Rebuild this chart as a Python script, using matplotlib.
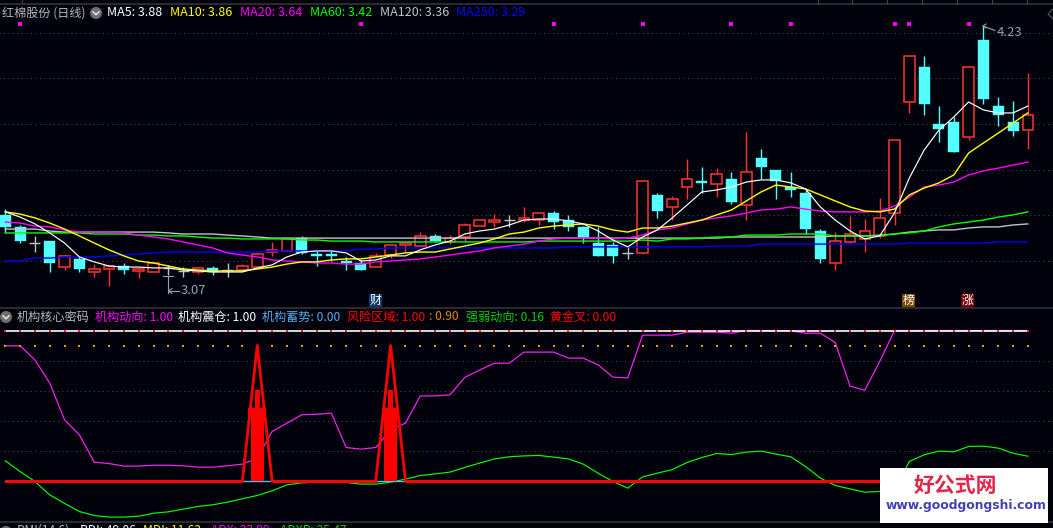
import matplotlib
matplotlib.use('Agg')
import matplotlib.pyplot as plt
from matplotlib.patches import Rectangle, Circle

plt.rcParams['font.family'] = ['Noto Sans CJK SC', 'DejaVu Sans']

# ---------- price data ----------
opens = [3.350,3.294,3.219,3.228,3.107,3.145,3.084,3.098,3.112,3.089,3.084,3.103,3.089,3.084,3.103,3.093,3.093,3.107,3.177,3.182,
         3.242,3.168,3.168,3.135,3.126,3.107,3.163,3.210,3.205,3.252,3.224,3.247,3.298,3.317,3.326,3.326,3.326,3.359,3.326,3.294,
         3.219,3.210,3.173,3.173,3.443,3.387,3.480,3.508,3.494,3.517,3.396,3.615,3.559,3.480,3.452,3.275,3.126,3.224,3.238,3.252,
         3.359,3.876,4.039,3.773,3.783,3.713,4.165,3.857,3.783,3.745]
closes = [3.294,3.228,3.219,3.126,3.159,3.098,3.098,3.112,3.093,3.098,3.126,3.103,3.089,3.103,3.084,3.093,3.112,3.168,3.187,3.238,
          3.173,3.159,3.159,3.126,3.093,3.159,3.210,3.219,3.252,3.228,3.242,3.303,3.326,3.326,3.326,3.336,3.359,3.317,3.294,3.247,
          3.159,3.159,3.173,3.508,3.368,3.424,3.517,3.499,3.541,3.410,3.550,3.573,3.508,3.466,3.284,3.145,3.228,3.261,3.275,3.336,
          3.699,4.090,3.867,3.750,3.643,4.039,3.890,3.815,3.741,3.815]
highs = [3.377,3.303,3.252,3.228,3.163,3.154,3.121,3.117,3.126,3.107,3.126,3.117,3.107,3.107,3.112,3.126,3.121,3.173,3.224,3.238,
         3.252,3.182,3.182,3.154,3.140,3.173,3.210,3.219,3.270,3.261,3.256,3.312,3.326,3.354,3.350,3.387,3.364,3.368,3.350,3.298,
         3.294,3.224,3.201,3.508,3.452,3.438,3.610,3.573,3.568,3.550,3.736,3.657,3.559,3.550,3.466,3.284,3.270,3.345,3.331,3.429,
         3.699,4.090,4.090,3.857,3.806,4.039,4.230,3.899,3.881,4.011]
lows = [3.266,3.219,3.177,3.084,3.093,3.084,3.061,3.019,3.075,3.056,3.084,3.070,3.061,3.075,3.070,3.061,3.089,3.107,3.159,3.182,
        3.168,3.112,3.135,3.093,3.093,3.107,3.149,3.177,3.205,3.224,3.214,3.228,3.298,3.294,3.294,3.317,3.303,3.284,3.275,3.219,
        3.159,3.126,3.145,3.168,3.336,3.326,3.424,3.452,3.433,3.401,3.326,3.517,3.424,3.433,3.261,3.126,3.093,3.219,3.177,3.242,
        3.303,3.825,3.815,3.690,3.643,3.699,3.867,3.764,3.718,3.657]
ma5 = [3.364,3.340,3.308,3.266,3.219,3.154,3.131,3.112,3.107,3.107,3.103,3.103,3.093,3.089,3.084,3.084,3.084,3.103,3.117,3.154,
       3.177,3.182,3.182,3.173,3.135,3.140,3.159,3.159,3.187,3.210,3.228,3.261,3.275,3.284,3.303,3.326,3.331,3.331,3.322,3.308,
       3.275,3.233,3.201,3.247,3.280,3.336,3.396,3.457,3.466,3.480,3.503,3.513,3.513,3.499,3.471,3.387,3.326,3.275,3.238,3.252,
       3.359,3.522,3.652,3.745,3.806,3.876,3.839,3.825,3.825,3.857]
ma10 = [3.364,3.354,3.336,3.312,3.284,3.252,3.219,3.187,3.159,3.135,3.126,3.112,3.098,3.093,3.089,3.089,3.089,3.098,3.107,3.121,
        3.131,3.131,3.140,3.145,3.145,3.154,3.163,3.173,3.177,3.177,3.191,3.205,3.219,3.238,3.261,3.270,3.289,3.298,3.303,3.308,
        3.298,3.280,3.270,3.289,3.289,3.298,3.312,3.326,3.350,3.373,3.415,3.457,3.489,3.480,3.471,3.443,3.415,3.387,3.368,3.364,
        3.377,3.443,3.475,3.499,3.536,3.638,3.685,3.731,3.778,3.825]
ma20 = [3.317,3.312,3.298,3.294,3.280,3.270,3.270,3.270,3.266,3.256,3.247,3.238,3.224,3.210,3.196,3.173,3.163,3.154,3.140,3.135,
        3.131,3.126,3.126,3.121,3.121,3.131,3.135,3.140,3.145,3.154,3.163,3.173,3.182,3.196,3.205,3.214,3.228,3.238,3.242,3.242,
        3.242,3.238,3.242,3.256,3.280,3.289,3.308,3.326,3.336,3.345,3.359,3.373,3.377,3.387,3.377,3.368,3.364,3.364,3.364,3.368,
        3.391,3.433,3.480,3.489,3.503,3.536,3.555,3.568,3.582,3.596]
ma60 = [3.266,3.266,3.266,3.266,3.266,3.266,3.261,3.261,3.261,3.256,3.256,3.252,3.252,3.247,3.242,3.242,3.238,3.238,3.238,3.238,
        3.233,3.233,3.228,3.228,3.228,3.224,3.224,3.224,3.224,3.224,3.224,3.224,3.224,3.224,3.224,3.224,3.228,3.228,3.228,3.228,
        3.228,3.228,3.228,3.233,3.228,3.238,3.238,3.242,3.247,3.247,3.256,3.256,3.256,3.261,3.261,3.261,3.252,3.252,3.252,3.252,
        3.261,3.266,3.275,3.294,3.308,3.317,3.326,3.340,3.350,3.364]
ma120 = [3.284,3.284,3.284,3.275,3.270,3.270,3.270,3.270,3.270,3.270,3.270,3.266,3.261,3.261,3.261,3.256,3.252,3.247,3.242,3.242,
         3.242,3.242,3.242,3.242,3.242,3.242,3.242,3.242,3.242,3.242,3.242,3.242,3.242,3.242,3.242,3.242,3.242,3.242,3.242,3.242,
         3.242,3.242,3.242,3.242,3.242,3.242,3.242,3.242,3.242,3.247,3.247,3.247,3.247,3.247,3.247,3.247,3.252,3.252,3.252,3.256,
         3.261,3.270,3.275,3.280,3.280,3.289,3.294,3.294,3.303,3.308]
ma250 = [3.135,3.135,3.149,3.149,3.154,3.154,3.154,3.159,3.163,3.168,3.173,3.177,3.177,3.177,3.177,3.177,3.177,3.177,3.182,3.182,
         3.182,3.182,3.182,3.182,3.191,3.191,3.196,3.196,3.196,3.196,3.196,3.196,3.196,3.196,3.196,3.196,3.196,3.196,3.201,3.201,
         3.201,3.201,3.201,3.201,3.201,3.201,3.201,3.201,3.205,3.205,3.205,3.214,3.214,3.214,3.214,3.214,3.214,3.214,3.214,3.214,
         3.214,3.219,3.219,3.219,3.219,3.219,3.219,3.224,3.224,3.224]
signal_days = [1, 24, 37, 43, 49, 53, 60, 61, 65]
price_grid = [4.197, 3.988, 3.773, 3.559, 3.350, 3.135]
ma_labels = ['MA5: 3.88', 'MA10: 3.86', 'MA20: 3.64', 'MA60: 3.42', 'MA120: 3.36', 'MA250: 3.29']

# ---------- indicator data ----------
inst_trend = [0.898,0.898,0.804,0.649,0.404,0.304,0.122,0.113,0.096,0.096,0.102,0.102,0.098,0.089,0.089,0.098,0.109,0.149,0.327,0.382,
              0.438,0.442,0.449,0.220,0.209,0.220,0.338,0.382,0.564,0.564,0.571,0.687,0.736,0.782,0.782,0.856,0.856,0.856,0.816,0.816,
              0.771,0.689,0.684,0.969,0.969,0.969,0.989,0.989,0.989,0.982,1.000,1.000,1.000,0.998,0.982,0.982,0.920,0.629,0.602,0.793,
              1.000,1.000,1.000,1.000,1.000,1.000,1.000,1.000,1.000,1.000]
strength = [0.131,0.060,-0.007,-0.096,-0.153,-0.207,-0.233,-0.244,-0.244,-0.238,-0.218,-0.209,-0.191,-0.173,-0.162,-0.144,-0.122,-0.100,-0.069,-0.029,
            -0.016,-0.011,-0.007,-0.013,-0.024,-0.024,-0.011,0.009,0.033,0.044,0.056,0.087,0.116,0.144,0.158,0.164,0.167,0.156,0.144,0.109,
            0.049,-0.007,-0.051,0.024,0.049,0.073,0.120,0.153,0.180,0.173,0.189,0.196,0.176,0.158,0.093,0.016,-0.033,-0.056,-0.078,-0.073,
            -0.069,0.127,0.171,0.196,0.191,0.227,0.229,0.216,0.182,0.162]
spike_days = [17, 26]
spike_peak = 0.90
spike_block = 0.483
spike_shoulder = 0.425
spike_core = 0.603
shake_level = 1.00
risk_level = 0.90
ind_grid = [0.8, 0.6, 0.4, 0.2]

BG = '#02020c'
GRID = '#484848'
UP = '#ff3333'
DOWN = '#54ffff'
FLAT = '#c4c4c4'
W, H = 1053, 528
X0, DX = 5.3, 14.82
days = list(range(len(opens)))

fig = plt.figure(figsize=(W / 100, H / 100), dpi=100, facecolor=BG)

def pane(top, bottom):
    a = fig.add_axes([0, 1 - bottom / H, 1, (bottom - top) / H])
    a.set_facecolor(BG)
    a.set_xlim(-X0 / DX, (W - X0) / DX)
    a.set_axis_off()
    return a

# main pane: px = (4.351 - price) / 0.004658
ax = pane(0, 308)
ax.set_ylim(4.351 - 308 * 0.004658, 4.351)
ax.hlines(price_grid, -1, 71, colors=GRID, lw=0.72, linestyles=(0, (1, 3.5)), zorder=1)

for i in days:
    o, h, l, c = opens[i], highs[i], lows[i], closes[i]
    top, bot = max(o, c), min(o, c)
    if c > o:
        ax.vlines(i, top, h, colors=UP, lw=1.0, zorder=2)
        ax.vlines(i, l, bot, colors=UP, lw=1.0, zorder=2)
        ax.add_patch(Rectangle((i - 0.36, bot), 0.72, top - bot, fc=BG, ec=UP, lw=1.1, zorder=3))
    elif c < o:
        ax.vlines(i, l, h, colors=DOWN, lw=1.0, zorder=2)
        ax.add_patch(Rectangle((i - 0.37, bot), 0.74, top - bot, fc=DOWN, ec=DOWN, lw=0.3, zorder=3))
    else:
        ax.vlines(i, l, h, colors=FLAT, lw=1.0, zorder=2)
        ax.hlines(c, i - 0.37, i + 0.37, colors=FLAT, lw=1.0, zorder=3)

for vals, col, lw in [(ma250, '#0000ff', 1.0), (ma120, '#c4c4c4', 1.0), (ma60, '#00ff00', 1.0),
                      (ma20, '#ff00ff', 1.0), (ma10, '#ffff00', 1.0), (ma5, '#ffffff', 0.85)]:
    ax.plot(days, vals, color=col, lw=lw, zorder=4)
ax.scatter(signal_days, [4.351 - 24 * 0.004658] * len(signal_days), marker='s', s=9,
           color='#ff00ff', linewidths=0, zorder=5)

# indicator pane: px = 480.5 - 150 * value
bx = pane(308, 522)
bx.set_ylim((480.5 - 522) / 150, (480.5 - 308) / 150)
bx.hlines(ind_grid, -1, 71, colors=GRID, lw=0.72, linestyles=(0, (1, 3.5)), zorder=1)
bx.plot(days, inst_trend, color='#ff22ff', lw=0.85, zorder=2)
bx.plot(days, strength, color='#00ff00', lw=0.85, zorder=2)
bx.plot([days[0], days[-1]], [shake_level, shake_level], color='#ffffff', lw=1.2, zorder=3)
bx.scatter(days, [shake_level] * len(days), marker='s', s=2.5, color='#ff2020', linewidths=0, zorder=4)
bx.scatter(days, [risk_level] * len(days), marker='s', s=2.5, color='#ff9900', linewidths=0, zorder=3)
bx.plot([days[0], days[-1]], [0, 0], color='#55bbee', lw=1.0, zorder=3)
edges = [days[0]]
for d in spike_days:
    edges += [d - 1, d + 1]
edges.append(days[-1])
for a, b in zip(edges[::2], edges[1::2]):
    bx.plot([a, b], [0, 0], color='#ff0000', lw=2.2, solid_capstyle='butt', zorder=5)
for d in spike_days:
    bx.plot([d - 1, d, d + 1], [0, spike_peak, 0], color='#ff0000', lw=2.0, zorder=6)
    bx.bar(d, spike_shoulder, width=0.90, color='#ff0000', zorder=6)
    bx.bar(d, spike_block - spike_shoulder, bottom=spike_shoulder, width=1.18, color='#ff0000', zorder=6)
    bx.bar(d, spike_core, width=0.36, color='#ff0000', zorder=6)

# overlay in pixel space for the furniture
ov = fig.add_axes([0, 0, 1, 1], zorder=10)
ov.set_xlim(0, W)
ov.set_ylim(H, 0)
ov.set_axis_off()
ov.patch.set_alpha(0)
for y in (3.5, 308, 522):
    ov.plot([0, W], [y, y], color='#333338', lw=1.2, zorder=1)
for x in (22, 817.6, 851.6, 886.7, 921.7, 956.7, 991.8, 1026.8):
    ov.plot([x, x], [0, 3], color='#444448', lw=0.8)
ov.plot([1053, 1048, 1053], [9, 14, 19], color='#555558', lw=0.8)

FS = 8.7
def label(x, y, s, col, fs=FS, **kw):
    kw.setdefault('ha', 'left')
    ov.text(x, y, s, color=col, fontsize=fs, va='center', **kw)

def badge(cx, cy):
    ov.add_patch(Circle((cx, cy), 6, fc='#6e6e6e', ec='none', zorder=3))
    ov.plot([cx - 3, cx, cx + 3], [cy - 1.2, cy + 1.8, cy - 1.2], color='#e4e4e4', lw=1.1, zorder=4)

label(2, 13, '红棉股份 (日线)', '#b8b8b8')
badge(96, 13)
ma_x = [107, 170, 239.5, 309.5, 379.5, 456]
ma_col = ['#ffffff', '#ffff00', '#ff00ff', '#00ff00', '#c4c4c4', '#0000ff']
for x, s, c in zip(ma_x, ma_labels, ma_col):
    label(x, 13, s, c, fs=9.0)

badge(6, 317)
label(17, 317, '机构核心密码', '#b8b8b8')
label(95, 317, '机构动向: 1.00', '#ff00ff')
label(178, 317, '机构震仓: 1.00', '#ffffff')
label(262, 317, '机构蓄势: 0.00', '#55aaee')
label(347, 317, '风险区域: 1.00', '#ff0000')
label(429, 317, ': 0.90', '#e08a00')
label(466, 317, '强弱动向: 0.16', '#00d000')
label(550, 317, '黄金叉: 0.00', '#ff0000')

badge(6, 532)
label(17, 530.5, 'DMI(14.6)', '#b8b8b8')
label(80, 530.5, 'PDI: 49.06', '#ffffff')
label(143, 530.5, 'MDI: 11.63', '#ffff00')
label(211, 530.5, 'ADX: 33.99', '#ff00ff')
label(280, 530.5, 'ADXR: 25.47', '#00d000')

# day flags
for x, s, bg in [(369, '财', '#0f3a66'), (902, '榜', '#7a4a08'), (961, '涨', '#7a0008')]:
    ov.add_patch(Rectangle((x, 294), 13, 13, fc=bg, ec='none', zorder=3))
    ov.text(x + 6.5, 300.3, s, color='#ffffff', fontsize=8.6, ha='center', va='center', zorder=4)

# extreme labels
EXT = '#9aa0b0'
ov.plot([163, 173], [276, 276], color=EXT, lw=0.8)
ov.plot([168, 168], [276, 293], color=EXT, lw=0.8)
ov.plot([172, 168.5, 172], [288.5, 291, 293.5], color=EXT, lw=0.8)
ov.plot([168.5, 179], [291, 291], color=EXT, lw=0.8)
label(181, 291, '3.07', EXT, fs=9.4)
ov.plot([983, 995], [26, 30.5], color=EXT, lw=0.8)
ov.plot([986, 983, 986], [24, 26, 28], color=EXT, lw=0.8)
label(997, 32.5, '4.23', EXT, fs=9.4)

# watermark
ov.add_patch(Rectangle((880, 468), 168, 55, fc='#ffffff', ec='none', zorder=5))
ov.text(955.7, 485.5, '好公式网', color='#e0274a', fontsize=15, fontweight='bold', ha='center', va='center', zorder=6)
ov.text(965.5, 506, 'www.goodgongshi.com', color='#4040b0', fontsize=8.9, fontweight='bold', ha='center', va='center',
        family='DejaVu Sans', zorder=6)

fig.savefig('out.png', dpi=100, facecolor=BG)
